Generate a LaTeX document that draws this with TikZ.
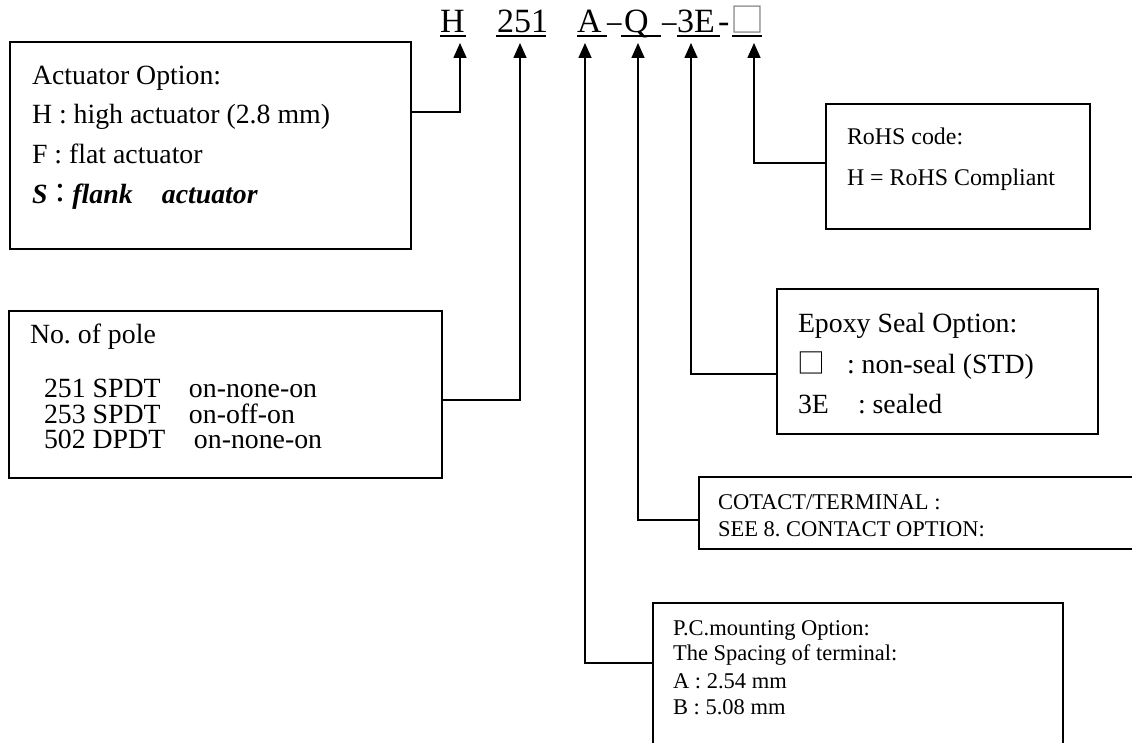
\documentclass[tikz,border=0pt]{standalone}
\usepackage{fontspec}
\usepackage{graphicx}
\setmainfont{Liberation Serif}
\newfontfamily\cjk{Noto Sans CJK TC}
\usetikzlibrary{arrows.meta}
\frenchspacing
\begin{document}
\begin{tikzpicture}[x=1pt,y=-1pt,
  box/.style={draw, line width=1.6pt, anchor=north west, inner sep=0pt, outer sep=0pt},
  txt/.style={anchor=base west, inner sep=0pt, outer sep=0pt},
  big/.style={font=\fontsize{27.8}{33}\selectfont},
  mid/.style={font=\fontsize{23.9}{28}\selectfont},
  small/.style={font=\fontsize{22.5}{26}\selectfont},
  code/.style={font=\fontsize{34}{38}\selectfont},
  tight/.style={text height=0.66em, text depth=0pt},
  conn/.style={line width=1.6pt, -{Triangle[width=13pt,length=15pt]}},
  ul/.style={line width=1.8pt}]
\useasboundingbox (0,0) rectangle (1132,743);
\clip (0,0) rectangle (1132,743);

% ---- code line ----
\node[txt,code] (cH) at (440,33) {H};
\node[txt,code] (c251) at (497,33) {251};
\node[txt,code] (cA) at (577,33) {A};
\node[txt,code] (d1) at (607,33) {\scalebox{0.85}[1]{–}};
\node[txt,code] (cQ) at (624,33) {Q};
\node[txt,code] (d2) at (662,33) {\scalebox{0.85}[1]{–}};
\node[txt,code] (c3E) at (677,33) {3E};
\node[txt,code] (d3) at (718,33) {-};
\node[txt,code,text=black!50] (cBox) at (730,33) {\cjk □};
\draw[ul] ([yshift=-3pt]cH.base west) -- ++(26,0);
\draw[ul] ([yshift=-3pt,xshift=-1pt]c251.base west) -- ++(50,0);
\draw[ul] ([yshift=-3pt]cA.base west) -- ++(30,0);
\draw[ul] ([yshift=-3pt,xshift=-3pt]cQ.base west) -- ++(40,0);
\draw[ul] ([yshift=-3pt]c3E.base west) -- ++(43,0);
\draw[ul] ([yshift=-3pt,xshift=2pt]cBox.base west) -- ++(30,0);

\coordinate (tH) at (460,43);
\coordinate (t251) at (520,43);
\coordinate (tA) at (585,43);
\coordinate (tQ) at (638,43);
\coordinate (t3E) at (691,43);
\coordinate (tBox) at (754,43);

% ---- boxes ----
\node[box, minimum width=401pt, minimum height=207pt] (act) at (10,42) {};
\node[box, minimum width=433pt, minimum height=167pt] (pole) at (9,311) {};
\node[box, minimum width=264pt, minimum height=125pt] (rohs) at (826,104) {};
\node[box, minimum width=321pt, minimum height=145pt] (epoxy) at (777,289) {};
\node[box, minimum width=460pt, minimum height=72pt] (cot) at (699,477) {};
\node[box, minimum width=410pt, minimum height=160pt] (pc) at (653,603) {};

% ---- texts ----
\node[txt,big] (a1) at (32,85) {Actuator Option:};
\node[txt,big] (a2) at (32,124) {H : high actuator (2.8 mm)};
\node[txt,big] (a3) at (32,164) {F : flat actuator};
\node[txt,big] (a4) at (32,204) {\bfseries\itshape S\makebox[0.9em]{\cjk\mdseries\upshape ：}flank\hspace{1.05em}actuator};

\node[txt,big] (p1) at (30,343) {No. of pole};
\node[txt,big,tight] (p2) at (44,397) {\makebox[145pt][l]{251 SPDT}on-none-on};
\node[txt,big,tight] (p3) at (44,423) {\makebox[145pt][l]{253 SPDT}on-off-on};
\node[txt,big,tight] (p4) at (44,448) {\makebox[150pt][l]{502 DPDT}on-none-on};

\node[txt,mid] (r1) at (847,145) {RoHS code:};
\node[txt,mid] (r2) at (847,186) {H = RoHS Compliant};

\node[txt,big] (e1) at (798,332) {Epoxy Seal Option:};
\node[txt,big] (e2) at (797,373) {\makebox[50pt][l]{\cjk □}: non-seal (STD)};
\node[txt,big] (e3) at (798,413) {\makebox[60pt][l]{3E}: sealed};

\node[txt,small] (k1) at (718,509) {COTACT/TERMINAL :};
\node[txt,small] (k2) at (718,536) {SEE 8. CONTACT OPTION:};

\node[txt,small] (m1) at (673,635) {P.C.mounting Option:};
\node[txt,small] (m2) at (673,660) {The Spacing of terminal:};
\node[txt,small] (m3) at (673,688) {A : 2.54 mm};
\node[txt,small] (m4) at (673,714) {B : 5.08 mm};

% ---- connectors ----
\draw[conn] ([yshift=-70pt]act.north east) -| (tH);
\draw[conn] ([yshift=-89pt]pole.north east) -| (t251);
\draw[conn] ([yshift=-59pt]rohs.north west) -| (tBox);
\draw[conn] ([yshift=-85pt]epoxy.north west) -| (t3E);
\draw[conn] ([yshift=-43pt]cot.north west) -| (tQ);
\draw[conn] ([yshift=-60pt]pc.north west) -| (tA);
\end{tikzpicture}
\end{document}
